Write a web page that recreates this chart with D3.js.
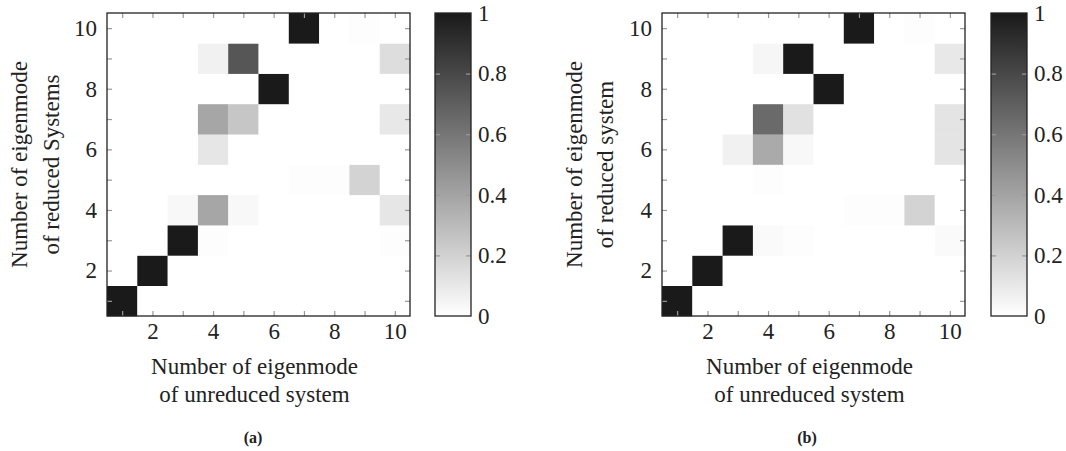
<!DOCTYPE html>
<html>
<head>
<meta charset="utf-8">
<script src="https://cdn.jsdelivr.net/npm/d3@7"></script>
</head>
<body style="margin:0">
<script>
var svgWidth = 1066;
var svgHeight = 451;

// mode numbers on both axes
var modes = [1, 2, 3, 4, 5, 6, 7, 8, 9, 10];
var axisLabels = [2, 4, 6, 8, 10];
var colorTicks = [0, 0.2, 0.4, 0.6, 0.8, 1];

// MAC values, one row per reduced mode (row 0 = mode 1), columns = unreduced mode 1..10
var macA = [
  [1, 0, 0, 0, 0, 0, 0, 0, 0, 0],
  [0, 1, 0, 0, 0, 0, 0, 0, 0, 0],
  [0, 0, 1, 0.01, 0, 0, 0, 0, 0, 0.01],
  [0, 0, 0.03, 0.39, 0.03, 0, 0, 0, 0, 0.11],
  [0, 0, 0, 0, 0, 0, 0.01, 0.01, 0.19, 0],
  [0, 0, 0, 0.11, 0, 0, 0, 0, 0, 0],
  [0, 0, 0, 0.39, 0.25, 0, 0, 0, 0, 0.1],
  [0, 0, 0, 0, 0, 1, 0, 0, 0, 0],
  [0, 0, 0, 0.06, 0.74, 0, 0, 0, 0, 0.15],
  [0, 0, 0, 0, 0, 0, 1, 0, 0.01, 0]
];

var macB = [
  [1, 0, 0, 0, 0, 0, 0, 0, 0, 0],
  [0, 1, 0, 0, 0, 0, 0, 0, 0, 0],
  [0, 0, 1, 0.02, 0.01, 0, 0, 0, 0, 0.02],
  [0, 0, 0, 0, 0, 0, 0.01, 0.01, 0.19, 0],
  [0, 0, 0, 0.01, 0, 0, 0, 0, 0, 0],
  [0, 0, 0.06, 0.37, 0.03, 0, 0, 0, 0, 0.12],
  [0, 0, 0, 0.65, 0.13, 0, 0, 0, 0, 0.12],
  [0, 0, 0, 0, 0, 1, 0, 0, 0, 0],
  [0, 0, 0, 0.04, 1, 0, 0, 0, 0, 0.1],
  [0, 0, 0, 0, 0, 0, 1, 0, 0.01, 0]
];

var panels = [
  { data: macA, left: 107, bar: 435, tag: "(a)", tagX: 253,
    ylab: ["Number of eigenmode", "of reduced Systems"], ylabX: [20, 52] },
  { data: macB, left: 662, bar: 991, tag: "(b)", tagX: 807,
    ylab: ["Number of eigenmode", "of reduced system"], ylabX: [575, 606] }
];

var plotTop = 13, plotSize = 303, barWidth = 36;
var font = "Liberation Serif";
var fontSize = 23;

var color = d3.scaleLinear().domain([0, 1]).range(["#ffffff", "#1a1a1a"]);

var svg = d3.select("body").append("svg")
  .attr("width", svgWidth)
  .attr("height", svgHeight);

var defs = svg.append("defs");
var grad = defs.append("linearGradient").attr("id", "cbar")
  .attr("x1", 0).attr("y1", 1).attr("x2", 0).attr("y2", 0);
grad.selectAll("stop").data([0, 1]).enter().append("stop")
  .attr("offset", d => d)
  .attr("stop-color", d => color(d));

function label(sel) {
  return sel.attr("font-family", font).attr("font-size", fontSize).attr("fill", "#222");
}

panels.forEach(p => {
  var x = d3.scaleLinear().domain([0.5, 10.5]).range([p.left, p.left + plotSize]);
  var y = d3.scaleLinear().domain([0.5, 10.5]).range([plotTop + plotSize, plotTop]);
  var g = svg.append("g");

  // cells
  var cells = [];
  p.data.forEach((row, i) => row.forEach((v, j) => cells.push({ x: modes[j], y: modes[i], v: v })));
  g.selectAll(".cell")
    .data(cells)
    .enter().append("rect")
    .attr("class", "cell")
    .attr("x", d => x(d.x - 0.5))
    .attr("y", d => y(d.y + 0.5))
    .attr("width", d => x(d.x + 0.5) - x(d.x - 0.5) + 0.3)
    .attr("height", d => y(d.y - 0.5) - y(d.y + 0.5) + 0.3)
    .attr("fill", d => color(d.v));

  // inward tick marks on all sides
  var ticks = [
    [d3.axisBottom(x), `translate(0,${plotTop + plotSize})`],
    [d3.axisTop(x), `translate(0,${plotTop})`],
    [d3.axisLeft(y), `translate(${p.left},0)`],
    [d3.axisRight(y), `translate(${p.left + plotSize},0)`]
  ];
  ticks.forEach(t => {
    var a = g.append("g").attr("transform", t[1])
      .call(t[0].tickValues(modes).tickSize(-5).tickFormat(""));
    a.select(".domain").remove();
    a.selectAll("line").attr("stroke", "#999").attr("stroke-width", 1.2);
  });

  // tick labels
  var xl = g.append("g").attr("transform", `translate(0,${plotTop + plotSize})`)
    .call(d3.axisBottom(x).tickValues(axisLabels).tickSize(0).tickPadding(7));
  var yl = g.append("g").attr("transform", `translate(${p.left},0)`)
    .call(d3.axisLeft(y).tickValues(axisLabels).tickSize(0).tickPadding(10));
  [xl, yl].forEach(a => {
    a.select(".domain").remove();
    label(a.selectAll("text"));
  });

  // frame
  g.append("rect")
    .attr("x", p.left).attr("y", plotTop)
    .attr("width", plotSize).attr("height", plotSize)
    .attr("fill", "none").attr("stroke", "#222").attr("stroke-width", 1.3);

  // axis titles
  var cx = p.left + plotSize / 2 - 4;
  label(g.append("text")).attr("x", cx).attr("y", 374).attr("text-anchor", "middle")
    .text("Number of eigenmode");
  label(g.append("text")).attr("x", cx).attr("y", 402).attr("text-anchor", "middle")
    .text("of unreduced system");
  var cy = plotTop + plotSize / 2;
  p.ylab.forEach((s, i) => {
    label(g.append("text"))
      .attr("transform", `translate(${p.ylabX[i] + 7},${cy}) rotate(-90)`)
      .attr("text-anchor", "middle")
      .text(s);
  });

  // panel tag
  g.append("text").attr("x", p.tagX).attr("y", 443).attr("text-anchor", "middle")
    .attr("font-family", font).attr("font-size", 16).attr("font-weight", "bold")
    .attr("fill", "#222").text(p.tag);

  // colorbar
  var cb = d3.scaleLinear().domain([0, 1]).range([plotTop + plotSize, plotTop]);
  g.append("rect")
    .attr("x", p.bar).attr("y", plotTop)
    .attr("width", barWidth).attr("height", plotSize)
    .attr("fill", "url(#cbar)");
  var cbIn = g.append("g").attr("transform", `translate(${p.bar},0)`)
    .call(d3.axisLeft(cb).tickValues(colorTicks.slice(1, 5)).tickSize(-5).tickFormat(""));
  var cbIn2 = g.append("g").attr("transform", `translate(${p.bar + barWidth},0)`)
    .call(d3.axisRight(cb).tickValues(colorTicks.slice(1, 5)).tickSize(-5).tickFormat(""));
  [cbIn, cbIn2].forEach(a => {
    a.select(".domain").remove();
    a.selectAll("line").attr("stroke", "#999").attr("stroke-width", 1.2);
  });
  var cbl = g.append("g").attr("transform", `translate(${p.bar + barWidth},0)`)
    .call(d3.axisRight(cb).tickValues(colorTicks).tickSize(0).tickPadding(7).tickFormat(d3.format("")));
  cbl.select(".domain").remove();
  label(cbl.selectAll("text"));
  g.append("rect")
    .attr("x", p.bar).attr("y", plotTop)
    .attr("width", barWidth).attr("height", plotSize)
    .attr("fill", "none").attr("stroke", "#222").attr("stroke-width", 1.3);
});
</script>
</body>
</html>
